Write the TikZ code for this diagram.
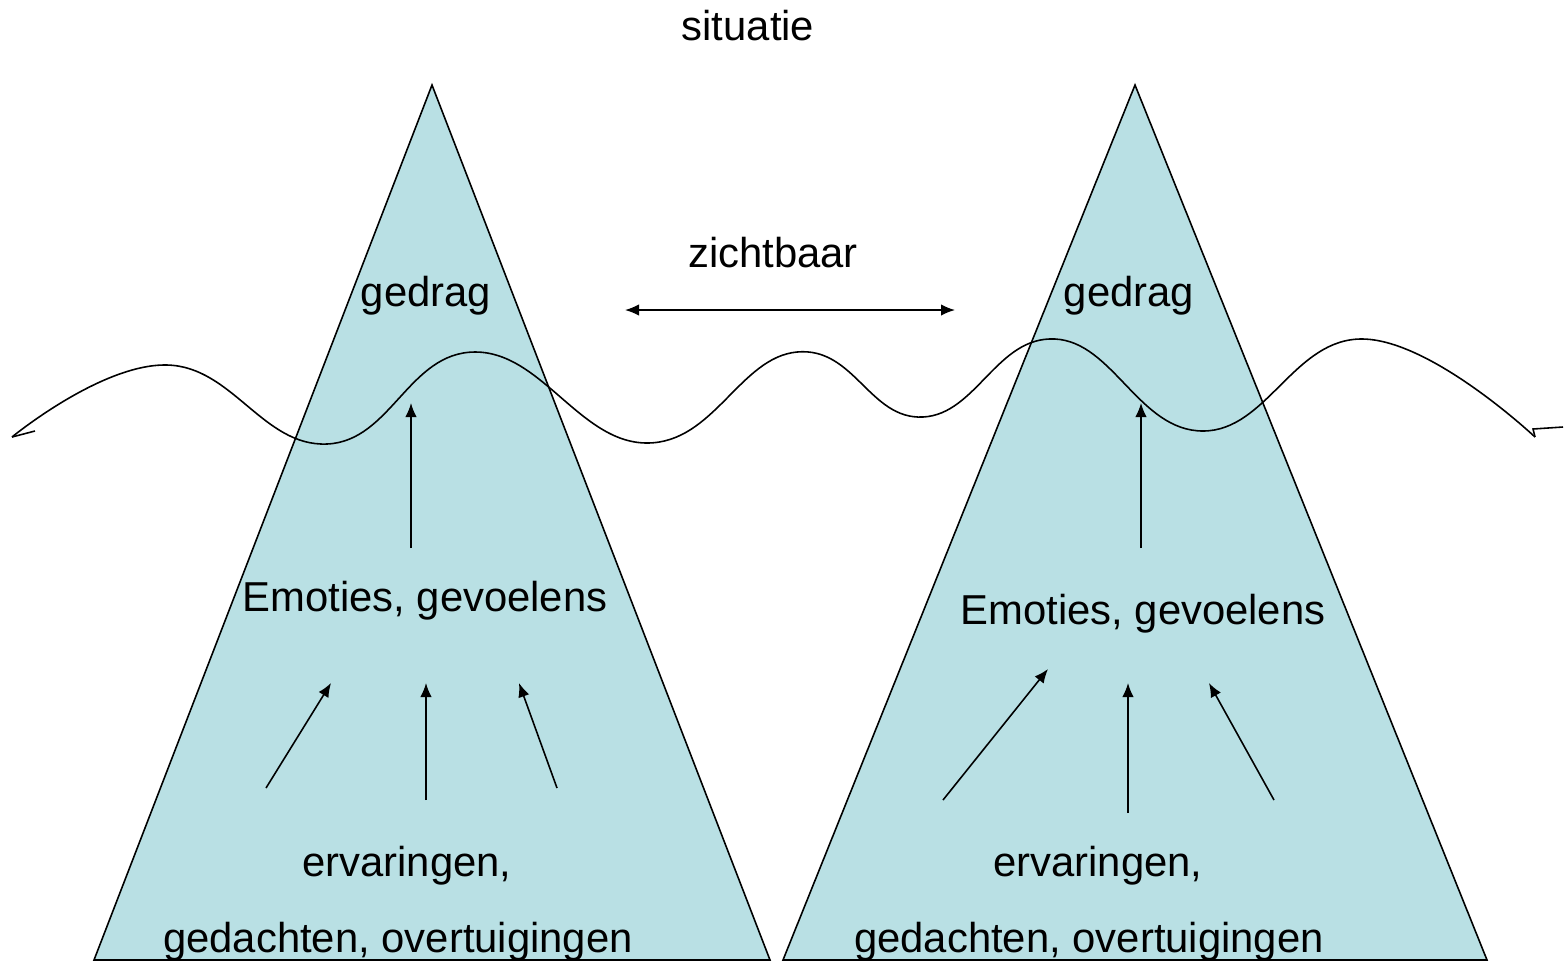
\documentclass[tikz,border=0pt]{standalone}
\usepackage{fontspec}
\setmainfont{Liberation Sans}
\usetikzlibrary{arrows.meta}
\definecolor{ijs}{RGB}{185,224,228}
\tikzstyle{berg}=[draw, fill=ijs, line width=0.9pt]
\tikzstyle{tekst}=[inner sep=0pt, anchor=base, font=\fontsize{23.8}{28}\selectfont]
\tikzstyle{line}=[draw, line width=0.9pt, -{Latex[length=2.8mm,width=2.3mm]}]
\tikzstyle{golf}=[draw, line width=0.9pt]

\begin{document}
\begin{tikzpicture}[x=0.02cm,y=-0.02cm]
  \useasboundingbox (0,0) rectangle (1565,965);

  % Draw the two icebergs
  \path [berg] (432,85) -- (770,960) -- (94,960) -- cycle;
  \path [berg] (1135,85) -- (1487,960) -- (783,960) -- cycle;

  % Texts
  \node (sit) [tekst] at (748,40) {situatie};
  \node (zicht) [tekst] at (773,267) {zichtbaar};
  \node (g1) [tekst] at (426,306) {gedrag};
  \node (g2) [tekst] at (1129,306) {gedrag};
  \node (e1) [tekst] at (425,611) {Emoties, gevoelens};
  \node (e2) [tekst] at (1143,624) {Emoties, gevoelens};
  \node (v1) [tekst] at (407,876) {ervaringen,};
  \node (v2) [tekst] at (1098,876) {ervaringen,};
  \node (o1) [tekst] at (398,952) {gedachten, overtuigingen};
  \node (o2) [tekst] at (1089,952) {gedachten, overtuigingen};

  % Arrow ends
  \coordinate (a1) at (411,548);  \coordinate (b1) at (411,403);
  \coordinate (a2) at (266,788);  \coordinate (b2) at (331,683);
  \coordinate (a3) at (426,800);  \coordinate (b3) at (426,683);
  \coordinate (a4) at (557,788);  \coordinate (b4) at (519,683);
  \coordinate (c1) at (1141,548); \coordinate (d1) at (1141,403);
  \coordinate (c2) at (943,800);  \coordinate (d2) at (1048,669);
  \coordinate (c3) at (1128,813); \coordinate (d3) at (1128,683);
  \coordinate (c4) at (1274,800); \coordinate (d4) at (1209,683);
  \coordinate (z1) at (625,310);  \coordinate (z2) at (955,310);

  % Arrows
  \path [line] (a1) -- (b1);
  \path [line] (a2) -- (b2);
  \path [line] (a3) -- (b3);
  \path [line] (a4) -- (b4);
  \path [line] (c1) -- (d1);
  \path [line] (c2) -- (d2);
  \path [line] (c3) -- (d3);
  \path [line] (c4) -- (d4);
  \path [line, {Latex[length=2.8mm,width=2.3mm]}-{Latex[length=2.8mm,width=2.3mm]}] (z1) -- (z2);

  % Water line
  \path [golf] plot [smooth, tension=0.75] coordinates {(12,437) (167,365)
    (327,444) (475,352) (647,443) (797,352) (923,417) (1055,339) (1203,431)
    (1363,339) (1535,437)};
  \path [golf] (35,431) -- (12,437);
  \path [golf] (1535,437) -- (1533,429) -- (1563,427);
\end{tikzpicture}
\end{document}
